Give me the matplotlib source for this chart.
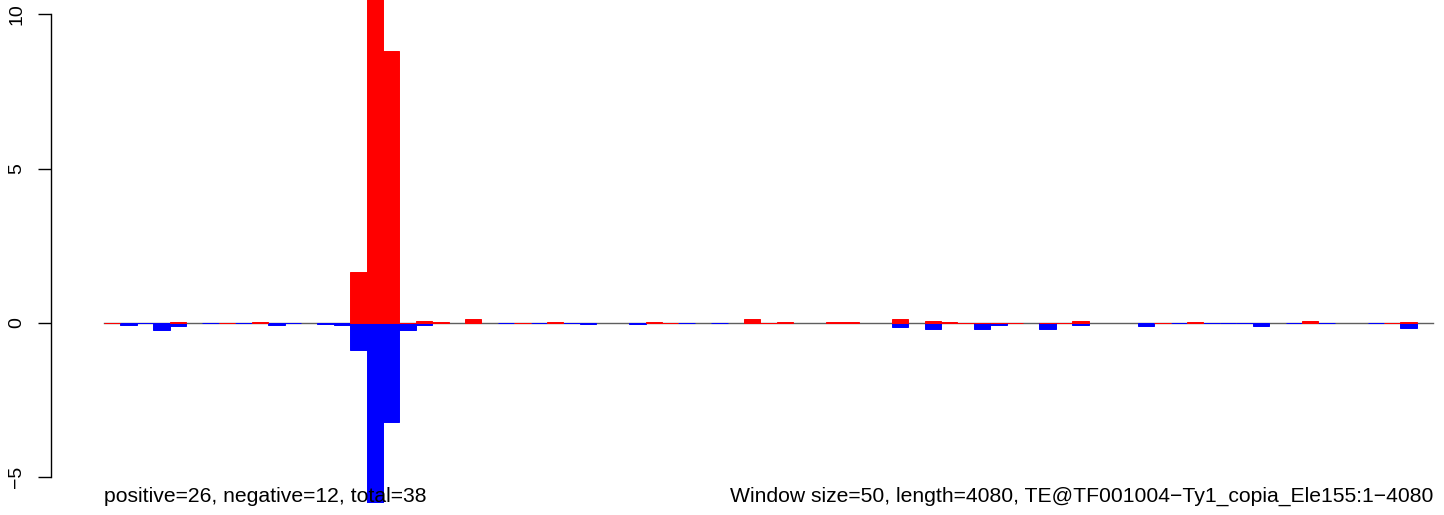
import matplotlib
matplotlib.use('Agg')
import matplotlib.pyplot as plt

plt.rcParams['font.family'] = ['Liberation Sans', 'DejaVu Sans']

# window index -> value; None means no bar drawn in that window
pos_vals = [0, None, None, None, 0.04, None, None, 0, None, 0.04,
            None, None, None, None, None, 1.65, 11.5, 8.8, 0, 0.065,
            0.04, None, 0.13, None, None, 0, None, 0.04, None, None,
            None, None, None, 0.04, 0, None, None, None, None, 0.13,
            0, 0.04, None, None, 0.04, 0.04, None, None, 0.13, None,
            0.08, 0.04, 0, 0, 0, 0, None, 0, 0, 0.08,
            None, None, None, None, 0, None, 0.04, None, None, None,
            None, None, None, 0.08, None, None, None, None, 0, 0.04,
            None]
neg_vals = [None, -0.075, 0, -0.22, -0.11, None, 0, None, 0, None,
            -0.05, 0, None, -0.04, -0.07, -0.87, -5.9, -3.2, -0.22, -0.08,
            0, None, None, None, 0, None, 0, None, 0, -0.04,
            None, None, -0.04, None, None, 0, None, 0, None, 0,
            None, 0, None, None, 0, 0, None, None, -0.12, None,
            -0.18, 0, None, -0.18, -0.05, None, None, -0.18, None, -0.05,
            None, None, None, -0.09, None, 0, None, 0, 0, 0,
            -0.09, None, 0, None, 0, None, None, 0, None, -0.15,
            None]
yticks = [-5, 0, 5, 10]
left_note = 'positive=26, negative=12, total=38'
right_note = 'Window size=50, length=4080, TE@TF001004\u2212Ty1_copia_Ele155:1\u22124080'

W, H = 1444, 515
fig = plt.figure(figsize=(W / 100, H / 100), dpi=100)
ax = fig.add_axes([51 / W, 12 / H, (W - 51) / W, 503 / H])

n = len(pos_vals)
ax.plot([0, n], [0, 0], color='#5f5f5f', lw=1.0, zorder=1)

bx = [i for i, v in enumerate(neg_vals) if v is not None]
ax.bar(bx, [neg_vals[i] for i in bx], width=1, align='edge',
       color='blue', edgecolor='blue', lw=0.7, zorder=2)
rx = [i for i, v in enumerate(pos_vals) if v is not None]
ax.bar(rx, [pos_vals[i] for i in rx], width=1, align='edge',
       color='red', edgecolor='red', lw=0.7, zorder=3)

ax.set_xlim(-(104 - 51) / 16.41, (W - 104) / 16.41)
ax.set_ylim(-(503 - 323) / 30.87, 323 / 30.87)

for s in ['top', 'right', 'bottom']:
    ax.spines[s].set_visible(False)
ax.spines['left'].set_bounds(-5, 10)
ax.spines['left'].set_linewidth(1.0)
ax.set_xticks([])
ax.set_yticks(yticks)
ax.set_yticklabels([str(t).replace('-', '\u2212') for t in yticks],
                   rotation=90, va='center', fontsize=14)
ax.tick_params(axis='y', length=9.4, width=1.0, pad=9)

ax.text(0, -5.8, left_note, ha='left', va='baseline', fontsize=15.25, zorder=5)
ax.text(n, -5.8, right_note, ha='right', va='baseline', fontsize=15.25, zorder=5)

fig.savefig('out.png', dpi=100)
